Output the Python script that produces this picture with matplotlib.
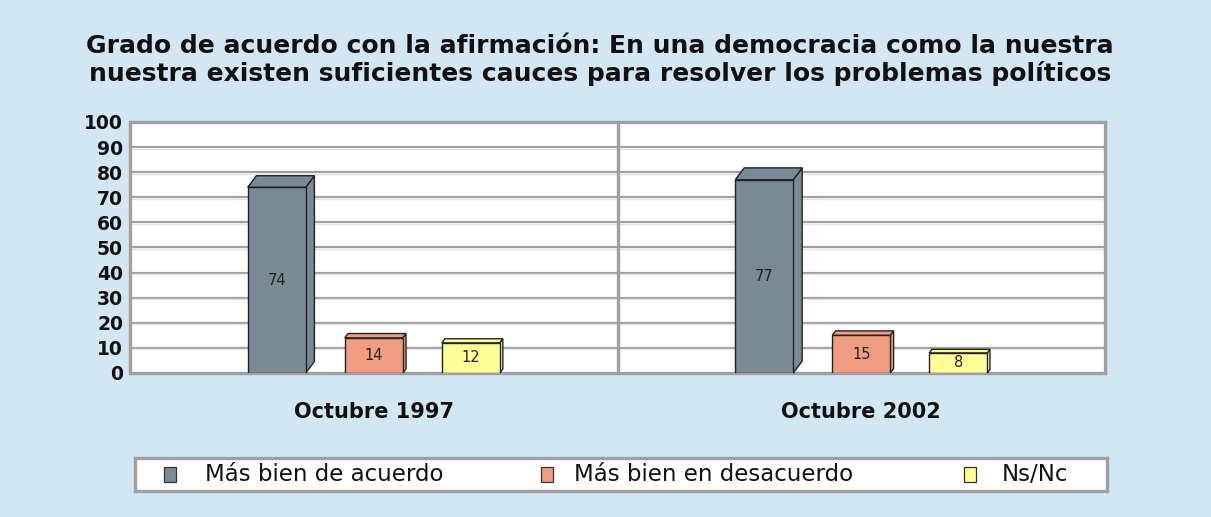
import matplotlib
matplotlib.use("Agg")
import matplotlib.pyplot as plt
from matplotlib.patches import Polygon, Rectangle

# ---- data ----
periods = ["Octubre 1997", "Octubre 2002"]
series_names = ["Más bien de acuerdo", "Más bien en desacuerdo", "Ns/Nc"]
acuerdo = [74, 77]
desacuerdo = [14, 15]
nsnc = [12, 8]
yticks = [0, 10, 20, 30, 40, 50, 60, 70, 80, 90, 100]
title = ("Grado de acuerdo con la afirmación: En una democracia como la nuestra\n"
         "nuestra existen suficientes cauces para resolver los problemas políticos")

colors = ["#7A8A94", "#F09C80", "#FFFF99"]
bg = "#D3E6F4"
plt.rcParams['font.family'] = ['DejaVu Sans']

W, H = 1211, 517
fig = plt.figure(figsize=(W / 100, H / 100), dpi=100, facecolor=bg)

ax = fig.add_axes([130 / W, 1 - 373 / H, 975 / W, 251 / H])
ax.set_facecolor("white")
ax.set_xlim(0, 2)
ax.set_ylim(0, 100)
ax.set_yticks(yticks)
ax.set_yticklabels([str(t) for t in yticks], fontsize=13.5, fontweight="bold", color="#111111")
ax.tick_params(axis="y", length=0, pad=5)
ax.set_xticks([0.5, 1.5])
ax.set_xticklabels(periods, fontsize=15, fontweight="bold", color="#111111")
ax.tick_params(axis="x", length=0, pad=21)
for t in yticks[1:-1]:
    ax.axhline(t, color="#A0A0A0", lw=1.6, zorder=1)
    ax.axhline(t - 0.6, color="#E4E4E4", lw=1.0, zorder=1)
ax.axvline(1.0, color="#A0A0A0", lw=2.4, zorder=1)
for s in ax.spines.values():
    s.set_color("#A0A0A0")
    s.set_linewidth(2.4)

px_x = 2 / 975.0
px_y = 100 / 251.0
bar_w = 58 * px_x
offsets = [-97 * px_x, 0, 97 * px_x]
all_series = [acuerdo, desacuerdo, nsnc]

for si, vals in enumerate(all_series):
    for gi, v in enumerate(vals):
        c = 0.5 + gi + offsets[si]
        x0, x1 = c - bar_w / 2, c + bar_w / 2
        dpx = 2 + 0.09 * v
        dx = dpx * px_x
        dy = 1.33 * dpx * px_y
        kw = dict(facecolor=colors[si], edgecolor="#222222", lw=1.0, zorder=3, clip_on=False)
        ax.add_patch(Polygon([(x1, 0), (x1 + dx, dy), (x1 + dx, v + dy), (x1, v)], **kw))
        ax.add_patch(Polygon([(x0, v), (x1, v), (x1 + dx, v + dy), (x0 + dx, v + dy)], **kw))
        ax.bar(c, v, width=bar_w, color=colors[si], edgecolor="#222222", lw=1.0, zorder=4)
        ax.text(c, v / 2, str(v), ha="center", va="center", fontsize=10.5, color="#222222", zorder=5)

fig.text(600 / W, 1 - 60 / H, title, ha="center", va="center", fontsize=18,
         fontweight="bold", color="#111111", linespacing=1.15)

# legend box
lax = fig.add_axes([135 / W, 1 - 491 / H, 972 / W, 33 / H])
lax.set_xlim(0, 972)
lax.set_ylim(0, 33)
lax.set_xticks([])
lax.set_yticks([])
lax.set_facecolor("white")
for s in lax.spines.values():
    s.set_color("#A0A0A0")
    s.set_linewidth(2.4)
mk_x = [35, 412, 835]
tx_x = [70, 439, 867]
for i, name in enumerate(series_names):
    lax.add_patch(Rectangle((mk_x[i] - 6, 9), 12, 15, facecolor=colors[i], edgecolor="#333333", lw=0.9))
    lax.text(tx_x[i], 16.5, name, ha="left", va="center", fontsize=16.5, color="#111111")

fig.savefig("out.png", dpi=100, facecolor=bg)
